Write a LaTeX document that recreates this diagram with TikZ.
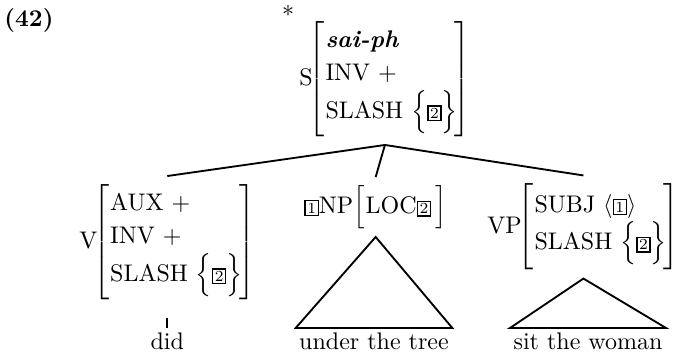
\documentclass[tikz,border=0pt]{standalone}
\usepackage{amsmath}
\usepackage{tikz}
\usetikzlibrary{positioning}

\setlength{\fboxsep}{0.7pt}
\setlength{\fboxrule}{0.6pt}
\newcommand{\tagbox}[1]{\fbox{\scriptsize #1}}
\newcommand{\avm}[2]{$\delimitershortfall=0pt\delimiterfactor=1000
  \kern-2pt\left[\rule[\dimexpr2.7pt-#1/2\relax]{0pt}{#1}%
  \begin{tabular}{@{\hspace{0.5pt}}l@{}}#2\end{tabular}\kern-1.5pt\right]$}
\renewcommand{\arraystretch}{1.15}

\begin{document}
\begin{tikzpicture}[x=0.456pt,y=-0.456pt,
    font=\fontsize{10.95}{13.2}\selectfont,
    fs/.style={anchor=west,inner xsep=0pt,inner ysep=3.6pt},
    leaf/.style={anchor=base,inner xsep=1.4pt,inner ysep=1.8pt},
    branch/.style={line width=0.85pt}]
  \useasboundingbox (0,0) rectangle (677,352);

  \node (ex) at (29,20) {\textbf{(42)}};
  \node (star) at (288,14) {*};

  % mother
  \node[fs] (s) at (299,79) {S\avm{49.5pt}{\textbf{\textit{sai-ph}}\\ INV $+$\\ SLASH $\Big\{\tagbox{2}\Big\}$}};

  % daughters
  \node[fs] (v) at (79,242) {V\avm{51pt}{AUX $+$\\ INV $+$\\ SLASH $\Big\{\tagbox{2}\Big\}$}};
  \node[fs] (np) at (304,207) {\tagbox{1}NP\hspace{2pt}\avm{18pt}{LOC\tagbox{2}\rule{3.5pt}{0pt}}};
  \node[fs] (vp) at (487,227) {VP\avm{37.5pt}{SUBJ $\langle\tagbox{1}\rangle$\\ SLASH $\Big\{\tagbox{2}\Big\}$}};

  % words
  \coordinate (base) at (0,349);
  \node[leaf] (did) at (v.south |- base) {did};
  \node[leaf] (tree) at (374,349) {under the tree};
  \node[leaf] (woman) at (588,349) {sit the woman};

  \draw[branch] (s.south) -- (v.north);
  \draw[branch] (s.south) -- (np.north);
  \draw[branch] (s.south) -- (vp.north);
  \draw[branch,shorten <=4.5pt] (v.south) -- (did.north);
  \draw[branch] (np.south) -- (tree.north west) -- (tree.north east) -- cycle;
  \draw[branch] (vp.south) -- (woman.north west) -- (woman.north east) -- cycle;
\end{tikzpicture}
\end{document}
